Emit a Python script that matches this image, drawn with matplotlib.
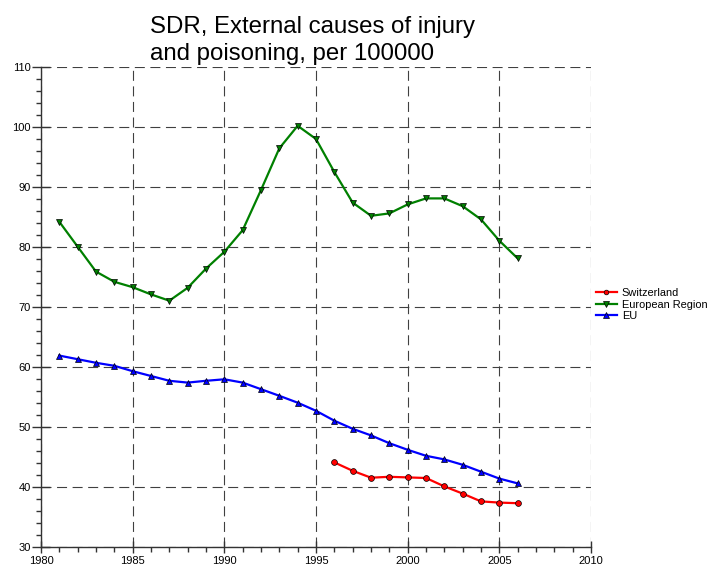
import matplotlib
matplotlib.use("Agg")
import matplotlib.pyplot as plt
from matplotlib.ticker import MultipleLocator

plt.rcParams['font.family'] = ['Liberation Sans', 'DejaVu Sans']

title_lines = ['SDR, External causes of injury', 'and poisoning, per 100000']

years_ch = list(range(1996, 2007))
switzerland = [44.1, 42.7, 41.55, 41.7, 41.6, 41.5, 40.1, 38.9, 37.6, 37.4, 37.3]

years = list(range(1981, 2007))
european_region = [84.2, 80.05, 75.9, 74.2, 73.3, 72.1, 71.05, 73.2, 76.4, 79.2,
                   82.8, 89.5, 96.45, 100.2, 98.0, 92.5, 87.4, 85.2, 85.6, 87.1,
                   88.1, 88.1, 86.8, 84.6, 81.05, 78.1]
eu = [61.9, 61.3, 60.7, 60.2, 59.3, 58.5, 57.7, 57.4, 57.7, 57.95,
      57.4, 56.3, 55.2, 54.05, 52.7, 51.05, 49.7, 48.6, 47.3, 46.2,
      45.2, 44.6, 43.7, 42.55, 41.4, 40.6]

fig = plt.figure(figsize=(7.14, 5.69), dpi=100)
ax = fig.add_axes([41/714, 1-547/569, 550/714, 480/569])

ax.plot(years_ch, switzerland, color='#ff0000', lw=1.6, marker='o', ms=4.2,
        mec='black', mew=0.5, label='Switzerland', zorder=3)
ax.plot(years, european_region, color='#008000', lw=1.6, marker='v', ms=5,
        mec='black', mew=0.5, label='European Region', zorder=3)
ax.plot(years, eu, color='#0000ff', lw=1.6, marker='^', ms=5,
        mec='black', mew=0.5, label='EU', zorder=3)

ax.set_xlim(1980, 2010)
ax.set_ylim(30, 110)
ax.xaxis.set_major_locator(MultipleLocator(5))
ax.xaxis.set_minor_locator(MultipleLocator(1))
ax.yaxis.set_major_locator(MultipleLocator(10))
ax.yaxis.set_minor_locator(MultipleLocator(2))

ax.grid(True, which='major', color='#404040', lw=0.8, ls=(0, (9, 5)))
for s in ['top', 'right']:
    ax.spines[s].set_visible(False)
for s in ['left', 'bottom']:
    ax.spines[s].set_linewidth(1.0)
    ax.spines[s].set_color('#333333')

ax.tick_params(axis='x', which='major', direction='inout', length=9, width=1.0,
               color='#333333', labelsize=8, pad=2)
ax.tick_params(axis='y', which='major', direction='inout', length=13, width=1.0,
               color='#333333', labelsize=8, pad=1)
ax.tick_params(which='minor', direction='out', length=3.5, width=1.0,
               color='#333333')

# title: two left-aligned lines
fig.text(150/714, 1-33/569, title_lines[0], fontsize=17.3, ha='left', va='baseline')
fig.text(150/714, 1-60/569, title_lines[1], fontsize=17.3, ha='left', va='baseline')

ax.legend(loc='center left', bbox_to_anchor=(1.0, 0.505), frameon=False,
          fontsize=7.9, handlelength=1.9, handletextpad=0.45, labelspacing=0.13,
          borderaxespad=0, borderpad=0.45, markerscale=0.8)

fig.savefig('out.png', dpi=100)
